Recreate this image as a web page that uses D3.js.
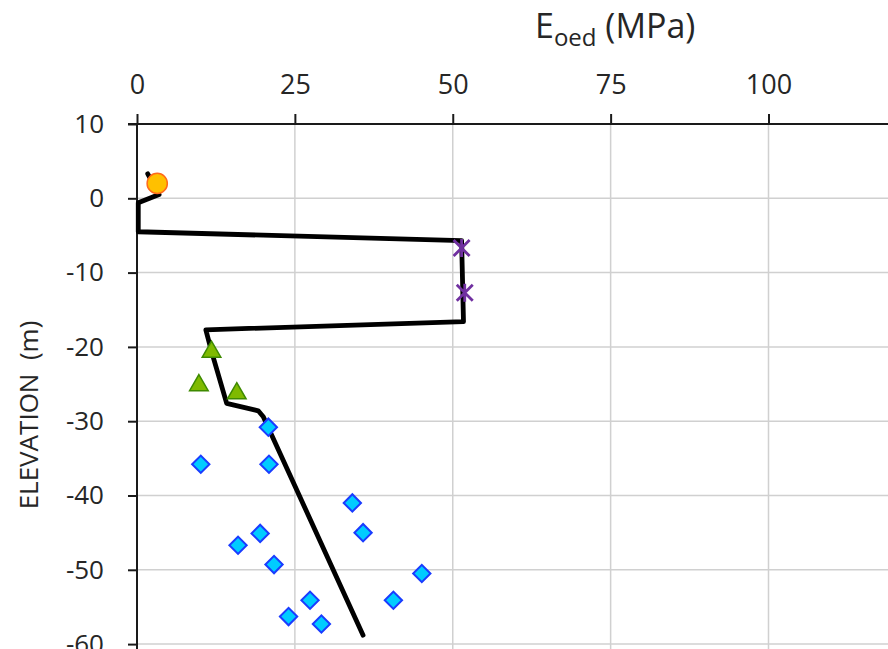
<!DOCTYPE html>
<html>
<head>
<meta charset="utf-8">
<script src="https://cdn.jsdelivr.net/npm/d3@7/dist/d3.min.js"></script>
<style>
  html, body { margin: 0; padding: 0; background: #fff; }
  svg { display: block; font-family: "Open Sans", "Noto Sans", sans-serif; }
</style>
</head>
<body>
<svg id="chart" width="888" height="649"></svg>
<script>
// Oedometric modulus profile against elevation

// Design profile (E in MPa, elevation in m)
const profileE    = [1.7, 3.5, 0.2, 0.2, 51.4, 51.7, 10.9, 11.8, 14.2, 19.2, 20.0, 35.8];
const profileElev = [3.3, 0.5, -0.6, -4.5, -5.7, -16.6, -17.7, -20.6, -27.6, -28.6, -29.4, -58.8];

// Layer test results
const fillE    = [3.2];
const fillElev = [2.0];

const stiffE    = [51.4, 51.9];
const stiffElev = [-6.7, -12.7];

const sandE    = [11.8, 9.8, 15.8];
const sandElev = [-20.8, -25.3, -26.4];

const deepE    = [20.8, 10.1, 20.9, 34.1, 35.8, 19.5, 16.0, 21.7, 45.1, 40.6, 27.4, 24.0, 29.2];
const deepElev = [-30.8, -35.8, -35.8, -41.0, -45.0, -45.1, -46.7, -49.3, -50.5, -54.1, -54.1, -56.3, -57.3];

// Axis ticks
const xTicks = [0, 25, 50, 75, 100];
const yTicks = [10, 0, -10, -20, -30, -40, -50, -60];

const svg = d3.select("#chart");
const plotLeft = 137, plotTop = 124;

const x = d3.scaleLinear().domain([0, 150]).range([plotLeft, plotLeft + 150 * 6.315]);
const y = d3.scaleLinear().domain([10, -70]).range([plotTop, plotTop + 80 * 7.43]);

const W = 888, H = 649;
const textColor = "#262626";
const plain = d => String(d);

// Grid
const grid = svg.append("g");
grid.selectAll("line.v").data(d3.range(25, 151, 25)).join("line")
  .attr("x1", d => x(d)).attr("x2", d => x(d))
  .attr("y1", plotTop).attr("y2", H + 10)
  .attr("stroke", "#d0d0d0").attr("stroke-width", 1.5);
grid.selectAll("line.h").data(yTicks.filter(d => d < 10)).join("line")
  .attr("x1", plotLeft).attr("x2", W + 10)
  .attr("y1", d => y(d)).attr("y2", d => y(d))
  .attr("stroke", "#d0d0d0").attr("stroke-width", 1.5);

// Top axis
const xAxis = d3.axisTop(x).tickValues(xTicks).tickSize(10).tickPadding(20).tickFormat(plain);
const xMinor = d3.axisTop(x).tickValues(d3.range(0, 151, 5)).tickSize(7).tickFormat("");
const gx = svg.append("g").attr("transform", `translate(0,${plotTop})`);
gx.call(xMinor);
gx.call(xAxis);
gx.selectAll(".domain").remove();
gx.append("line").attr("x1", plotLeft - 9).attr("x2", W + 10);
gx.selectAll("line").attr("stroke", "#1a1a1a").attr("stroke-width", 2);
gx.selectAll("text").attr("font-size", 27).attr("fill", textColor)
  .attr("font-family", "'Open Sans', sans-serif");

// Left axis
const yAxis = d3.axisLeft(y).tickValues(yTicks).tickSize(9).tickPadding(24).tickFormat(plain);
const yMinor = d3.axisLeft(y).tickValues(d3.range(-70, 11, 2)).tickSize(8).tickFormat("");
const gy = svg.append("g").attr("transform", `translate(${plotLeft},0)`);
gy.call(yMinor);
gy.call(yAxis);
gy.selectAll(".domain").remove();
gy.append("line").attr("y1", plotTop).attr("y2", H + 10);
gy.selectAll("line").attr("stroke", "#1a1a1a").attr("stroke-width", 2);
gy.selectAll("text").attr("font-size", 26).attr("fill", textColor)
  .attr("font-family", "'Open Sans', sans-serif");

// Axis titles
const title = svg.append("text")
  .attr("x", 535).attr("y", 38)
  .attr("font-size", 34).attr("fill", textColor);
title.append("tspan").text("E");
title.append("tspan").attr("font-size", 24).attr("dy", 8).text("oed");
title.append("tspan").attr("dy", -8).text(" (MPa)");

svg.append("text")
  .attr("transform", "translate(38,415) rotate(-90)")
  .attr("text-anchor", "middle")
  .attr("font-size", 26).attr("fill", textColor)
  .attr("xml:space", "preserve")
  .text("ELEVATION  (m)");

// Profile line
const pts = profileE.map((e, i) => [x(e), y(profileElev[i])]);
svg.append("path")
  .attr("d", d3.line()(pts))
  .attr("fill", "none").attr("stroke", "#000").attr("stroke-width", 4.8)
  .attr("stroke-linejoin", "round").attr("stroke-linecap", "round");

// Markers
svg.append("g").selectAll("path").data(fillE.map((e, i) => [e, fillElev[i]])).join("path")
  .attr("transform", d => `translate(${x(d[0])},${y(d[1])})`)
  .attr("d", d3.symbol().type(d3.symbolCircle).size(320)())
  .attr("fill", "#FFC000").attr("stroke", "#FF6A1A").attr("stroke-width", 1.5);

svg.append("g").selectAll("path").data(stiffE.map((e, i) => [e, stiffElev[i]])).join("path")
  .attr("transform", d => `translate(${x(d[0])},${y(d[1])})`)
  .attr("d", () => {
    const s = 8;
    return `M${-s},${-s}L${s},${s}M${-s},${s}L${s},${-s}M0,${-s - 1}L0,${s + 1}`;
  })
  .attr("stroke", "#7030A0").attr("stroke-width", 2.8).attr("fill", "none");

svg.append("g").selectAll("path").data(sandE.map((e, i) => [e, sandElev[i]])).join("path")
  .attr("transform", d => `translate(${x(d[0])},${y(d[1]) - 1})`)
  .attr("d", d3.symbol().type(d3.symbolTriangle).size(150)())
  .attr("fill", "#7FBA00").attr("stroke", "#3E8A00").attr("stroke-width", 1.5);

svg.append("g").selectAll("path").data(deepE.map((e, i) => [e, deepElev[i]])).join("path")
  .attr("transform", d => `translate(${x(d[0])},${y(d[1])}) rotate(45)`)
  .attr("d", d3.symbol().type(d3.symbolSquare).size(150)())
  .attr("fill", "#00CCFF").attr("stroke", "#1a3cff").attr("stroke-width", 2);
</script>
</body>
</html>
